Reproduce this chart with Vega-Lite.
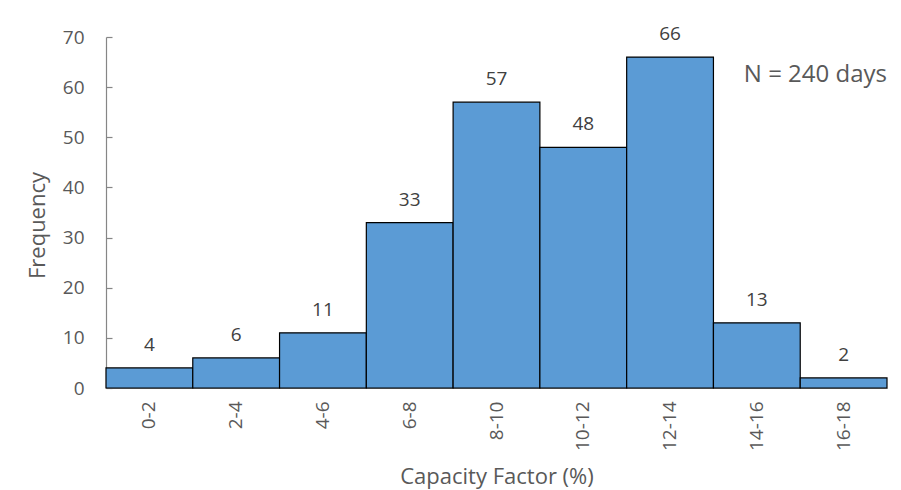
{
  "$schema": "https://vega.github.io/schema/vega-lite/v6.json",
  "width": 781,
  "height": 351,
  "autosize": "none",
  "padding": {"left": 106, "top": 37, "right": 14, "bottom": 102},
  "background": "white",
  "config": {
    "font": "Open Sans",
    "view": {"stroke": null}
  },
  "datasets": {
    "bins": [
      {"range": "0-2", "count": 4},
      {"range": "2-4", "count": 6},
      {"range": "4-6", "count": 11},
      {"range": "6-8", "count": 33},
      {"range": "8-10", "count": 57},
      {"range": "10-12", "count": 48},
      {"range": "12-14", "count": 66},
      {"range": "14-16", "count": 13},
      {"range": "16-18", "count": 2}
    ],
    "note": [
      {"range": "16-18", "count": 61, "label": "N = 240 days"}
    ]
  },
  "layer": [
    {
      "data": {"name": "bins"},
      "mark": {"type": "bar", "fill": "#5B9BD5", "stroke": "#000000", "strokeWidth": 1.2},
      "encoding": {
        "x": {
          "field": "range",
          "type": "ordinal",
          "sort": null,
          "scale": {"paddingInner": 0, "paddingOuter": 0},
          "axis": {
            "title": "Capacity Factor (%)",
            "labelAngle": -90,
            "labelFontSize": 19,
            "labelColor": "#595959",
            "labelPadding": 13,
            "ticks": false,
            "domainColor": "#868686",
            "titleFontSize": 22,
            "titleFontWeight": "normal",
            "titleColor": "#595959",
            "titleBaseline": "alphabetic",
            "titleY": 95
          }
        },
        "y": {
          "field": "count",
          "type": "quantitative",
          "scale": {"domain": [0, 70]},
          "axis": {
            "title": "Frequency",
            "values": [0, 10, 20, 30, 40, 50, 60, 70],
            "grid": false,
            "tickSize": -6,
            "tickColor": "#868686",
            "tickWidth": 1.2,
            "domainColor": "#868686",
            "domainWidth": 1.2,
            "labelFontSize": 19,
            "labelColor": "#595959",
            "labelPadding": 28,
            "titleFontSize": 22,
            "titleFontWeight": "normal",
            "titleColor": "#595959",
            "titleBaseline": "alphabetic",
            "titleX": -62,
            "titleY": 188
          }
        }
      }
    },
    {
      "data": {"name": "bins"},
      "mark": {"type": "text", "baseline": "alphabetic", "dy": -17, "fontSize": 19, "color": "#404040"},
      "encoding": {
        "x": {"field": "range", "type": "ordinal", "sort": null},
        "y": {"field": "count", "type": "quantitative"},
        "text": {"field": "count"}
      }
    },
    {
      "data": {"name": "note"},
      "mark": {"type": "text", "align": "right", "baseline": "alphabetic", "fontSize": 24, "color": "#595959"},
      "encoding": {
        "x": {"field": "range", "type": "ordinal", "sort": null, "bandPosition": 1},
        "y": {"field": "count", "type": "quantitative"},
        "text": {"field": "label"}
      }
    }
  ]
}
